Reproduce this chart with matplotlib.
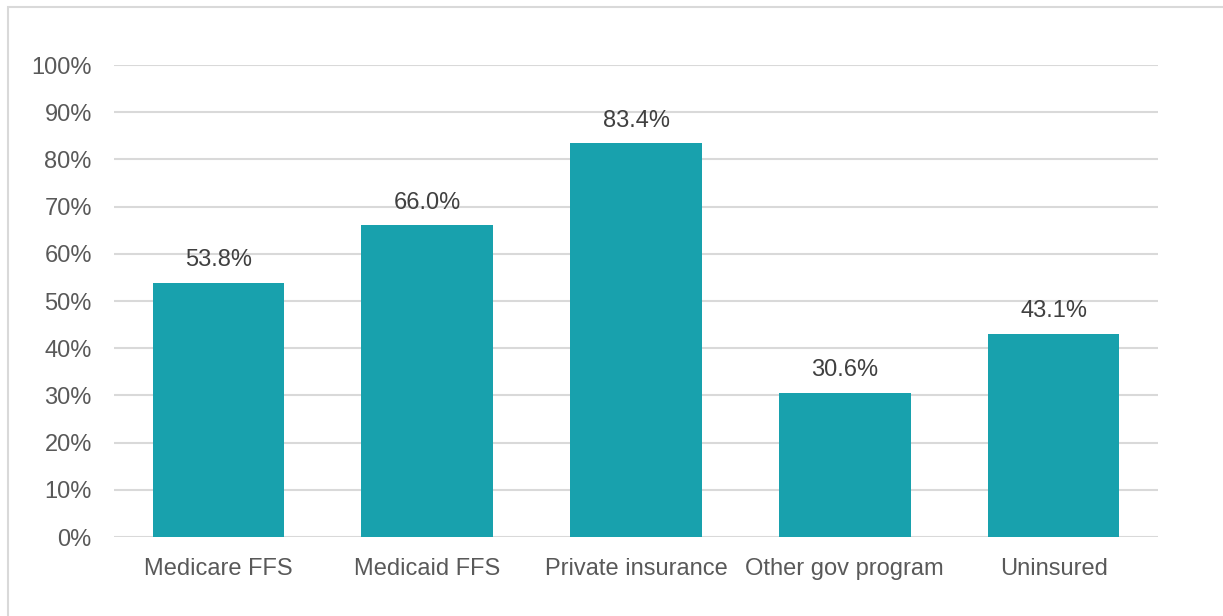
import matplotlib
matplotlib.use("Agg")
import matplotlib.pyplot as plt
from matplotlib.patches import Rectangle

categories = ["Medicare FFS", "Medicaid FFS", "Private insurance", "Other gov program", "Uninsured"]
values = [53.8, 66.0, 83.4, 30.6, 43.1]
yticks = [0, 10, 20, 30, 40, 50, 60, 70, 80, 90, 100]
ytick_labels = [f"{t}%" for t in yticks]

plt.rcParams['font.family'] = ['Liberation Sans', 'DejaVu Sans']

W, H = 1223, 616
fig = plt.figure(figsize=(W / 100, H / 100), dpi=100)
ax = fig.add_axes([114 / W, 1 - 537 / H, (1158 - 114) / W, (537 - 65) / H])

bar_color = "#18A1AD"
x = list(range(len(categories)))
bars = ax.bar(x, values, width=0.63, color=bar_color, zorder=3)

ax.set_xlim(-0.5, len(categories) - 0.5)
ax.set_ylim(0, 100)
ax.set_yticks(yticks)
ax.set_yticklabels(ytick_labels)
ax.set_xticks(x)
ax.set_xticklabels(categories)

ax.grid(axis='y', color='#D9D9D9', linewidth=1.5, zorder=0)
ax.set_axisbelow(True)
for s in ['top', 'right', 'left', 'bottom']:
    ax.spines[s].set_visible(False)
ax.tick_params(axis='both', length=0, labelsize=17, colors='#595959')
ax.tick_params(axis='y', pad=16)
ax.tick_params(axis='x', pad=15)

for xi, v in zip(x, values):
    ax.annotate(f"{v:.1f}%", (xi, v), xytext=(0, 12), textcoords='offset points',
                ha='center', va='baseline', fontsize=17, color='#404040')

# figure border (top and left visible)
fig.patches.append(Rectangle((7.5 / W, -0.1), 1.2, 1.1 - 6.5 / H, transform=fig.transFigure,
                             fill=False, edgecolor='#D9D9D9', linewidth=1.5))

fig.savefig("out.png", dpi=100)
